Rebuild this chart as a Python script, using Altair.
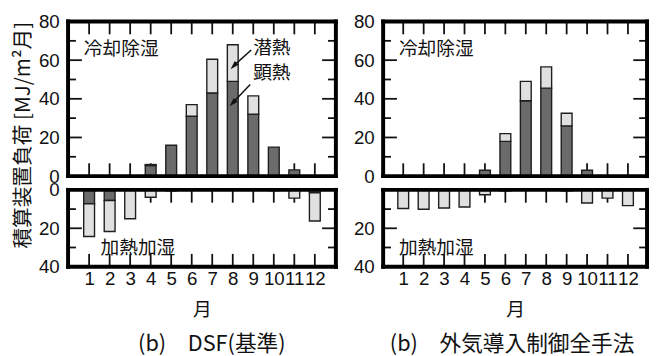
import altair as alt
import pandas as pd

# ---------------- data ----------------
months = list(range(1, 13))

dsf_cool_sensible = [0, 0, 0, 5.5, 16, 31, 43, 49, 32, 15, 3.2, 0]
dsf_cool_latent = [0, 0, 0, 0.5, 0, 6, 17.5, 19, 9.5, 0, 0, 0]
dsf_heat_sensible = [7.2, 5.5, 0, 0, 0.5, 0, 0, 0, 0, 0.4, 0, 1.5]
dsf_heat_latent = [17.1, 16.2, 15, 3.8, 0, 0, 0, 0, 0, 0, 4.3, 14.7]

all_cool_sensible = [0, 0, 0, 0, 3, 18, 39, 45.5, 26, 3, 0, 0]
all_cool_latent = [0, 0, 0, 0, 0, 4, 10, 11, 6.5, 0, 0, 0]
all_heat_sensible = [0, 0, 0, 0, 0, 0.5, 0, 0, 0.5, 0, 0, 0]
all_heat_latent = [9.7, 10.1, 9.4, 8.9, 2.5, 0, 0, 0, 0, 6.8, 4.3, 8.2]

cool_ticks_major = [20, 40, 60]
cool_ticks_minor = [10, 30, 50, 70]
heat_ticks_major = [20]
heat_ticks_minor = [10, 30]

cool_labels = [0, 20, 40, 60, 80]
heat_labels_left = [0, 20, 40]
heat_labels_right = [20, 40]

y_title = "積算装置負荷 [MJ/m²月]"
x_title = "月"
captions = ["(b)　DSF(基準)", "(b)　外気導入制御全手法"]
cool_text = ["冷却除湿"]
heat_text = ["加熱加湿"]
latent_text = ["潜熱"]
sensible_text = ["顕熱"]

# ---------------- style ----------------
LAT = "Liberation Sans"
JP = "Noto Sans CJK JP"
INK = "#111111"
DARK = "#6b6b6b"
LIGHT = "#e0e0e0"
EDGE = "#1e1e1e"
TOP_H = 157
BOT_H = 78
LEFT_W = 272
RIGHT_W = 268
LEFT_XDOM = [0.214, 12.786]
RIGHT_XDOM = [0.258, 12.694]
FR = 2  # half frame thickness


def label_layer(texts, x, y, size=19):
    return alt.Chart(pd.DataFrame({"t": texts})).mark_text(
        align="left", baseline="middle", font=JP, fontSize=size, color=INK
    ).encode(x=alt.value(x), y=alt.value(y), text="t:N")


def arrow_layers(x1, y1, xt, yt):
    one = pd.DataFrame({"k": [0]})
    line = alt.Chart(one).mark_rule(color=INK, strokeWidth=1.5).encode(
        x=alt.value(x1), y=alt.value(y1), x2=alt.value(xt + 4.5), y2=alt.value(yt - 4.7)
    )
    head = alt.Chart(one).mark_point(
        shape="M0,0L-0.6,2L0.6,2Z", filled=True, size=81, angle=224, color=INK, opacity=1
    ).encode(x=alt.value(xt), y=alt.value(yt))
    return [line, head]


def frame_layers(width, height):
    one = pd.DataFrame({"k": [0]})
    sides = [
        (-FR, width + FR, -FR, FR),
        (-FR, width + FR, height - FR, height + FR),
        (-FR, FR, -FR, height + FR),
        (width - FR, width + FR, -FR, height + FR),
    ]
    return [
        alt.Chart(one).mark_rect(fill="black", strokeWidth=0, opacity=1).encode(
            x=alt.value(a), x2=alt.value(b), y=alt.value(c), y2=alt.value(d))
        for a, b, c, d in sides
    ]


def panel(sens, lat, width, height, xdom, ydom, reverse, major, minor, ylabels,
          bottom, extra, ytitle=None, caption=None, cap_dx=0):
    df = pd.DataFrame({"month": months, "s": sens, "l": lat})
    xscale = alt.Scale(domain=xdom, nice=False, zero=False)
    yscale = alt.Scale(domain=ydom, nice=False, zero=False, reverse=reverse)
    if bottom:
        xaxis = alt.Axis(values=months, ticks=False, domain=False, grid=False,
                         labelFont=LAT, labelFontSize=19, labelColor=INK,
                         labelPadding=3, labelOverlap=False, labelFlush=False,
                         labelBaseline="top", format="d",
                         title=x_title, titleFont=JP, titleFontSize=19,
                         titleFontWeight="normal", titleColor=INK, titlePadding=13)
    else:
        xaxis = None
    ykw = dict(values=ylabels, ticks=False, domain=False, grid=False,
               labelFont=LAT, labelFontSize=19, labelColor=INK, labelPadding=9,
               labelFlush=False, labelOverlap=False, title=ytitle or "")
    if ytitle:
        ykw.update(titleFont=JP, titleFontSize=21, titleFontWeight="normal",
                   titleColor=INK, titleAngle=270, titleX=-45, titleY=115,
                   titleAlign="center", titleBaseline="middle")
    yaxis = alt.Axis(**ykw)

    def X():
        return alt.X("month:Q", scale=xscale, axis=xaxis)

    def Y(f):
        return alt.Y(f + ":Q", scale=yscale, axis=yaxis)

    mt = pd.DataFrame({"month": months})
    rule = dict(color=INK, strokeWidth=1.8)
    layers = [
        alt.Chart(mt).mark_rule(**rule).encode(x=X(), y=alt.value(0), y2=alt.value(13)),
        alt.Chart(mt).mark_rule(**rule).encode(x=X(), y=alt.value(height), y2=alt.value(height - 13)),
    ]
    for vals, ln in ((major, 14), (minor, 8)):
        tdf = pd.DataFrame({"v": vals})
        layers.append(alt.Chart(tdf).mark_rule(**rule).encode(
            y=Y("v"), x=alt.value(0), x2=alt.value(ln)))
        layers.append(alt.Chart(tdf).mark_rule(**rule).encode(
            y=Y("v"), x=alt.value(width), x2=alt.value(width - ln)))

    bar = dict(size=11, stroke=EDGE, strokeWidth=1.4)
    layers.append(alt.Chart(df).transform_filter("datum.s > 0").mark_bar(
        fill=DARK, **bar).encode(x=X(), y=Y("s"), y2=alt.datum(0)))
    layers.append(alt.Chart(df).transform_filter("datum.l > 0").transform_calculate(
        top="datum.s + datum.l").mark_bar(fill=LIGHT, **bar).encode(
        x=X(), y=Y("top"), y2=alt.Y2("s:Q")))
    layers.extend(extra)
    layers.extend(frame_layers(width, height))

    ch = alt.layer(*layers).resolve_scale(x="shared", y="shared").properties(
        width=width, height=height)
    if caption:
        ch = ch.properties(title=alt.TitleParams(
            text=caption, orient="bottom", anchor="middle", frame="group",
            font=JP, fontSize=22, fontWeight="normal", color=INK,
            dx=cap_dx, offset=15))
    return ch


left_top = panel(
    dsf_cool_sensible, dsf_cool_latent, LEFT_W, TOP_H, LEFT_XDOM, [0, 80], False,
    cool_ticks_major, cool_ticks_minor, cool_labels, False,
    [label_layer(cool_text, 16, 28), label_layer(latent_text, 188, 27),
     label_layer(sensible_text, 188, 52)]
    + arrow_layers(186, 29, 165, 48.5) + arrow_layers(185, 64, 164, 86),
    ytitle=y_title)

left_bot = panel(
    dsf_heat_sensible, dsf_heat_latent, LEFT_W, BOT_H, LEFT_XDOM, [0, 40], True,
    heat_ticks_major, heat_ticks_minor, heat_labels_left, True,
    [label_layer(heat_text, 33, 59)], caption=captions[0], cap_dx=10)

right_top = panel(
    all_cool_sensible, all_cool_latent, RIGHT_W, TOP_H, RIGHT_XDOM, [0, 80], False,
    cool_ticks_major, cool_ticks_minor, cool_labels, False,
    [label_layer(cool_text, 16, 28)])

right_bot = panel(
    all_heat_sensible, all_heat_latent, RIGHT_W, BOT_H, RIGHT_XDOM, [0, 40], True,
    heat_ticks_major, heat_ticks_minor, heat_labels_right, True,
    [label_layer(heat_text, 16, 59)], caption=captions[1], cap_dx=-3)

chart = alt.concat(
    left_top, right_top, left_bot, right_bot,
    columns=2, spacing={"row": 14, "column": 48}, bounds="flush",
).resolve_scale(x="independent", y="independent").properties(
    padding={"left": 4, "top": 2, "right": 0, "bottom": 0},
    background="white",
).configure_view(stroke=None)

chart.save("out.html", embed_options={"renderer": "svg", "actions": False})
